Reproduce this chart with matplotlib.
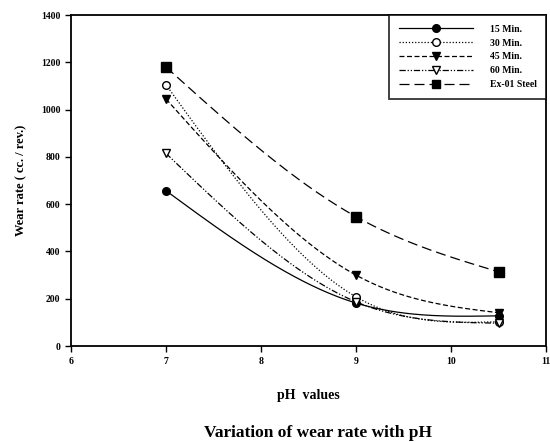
"""
Wear rate vs pH value, SigmaPlot-style line chart with smooth curves.
Saves out.png (550x442).
"""

import matplotlib
matplotlib.use("Agg")
import matplotlib.pyplot as plt
import numpy as np

PH = [7, 9, 10.5]
SERIES = ["15 Min.", "30 Min.", "45 Min.", "60 Min.", "Ex-01 Steel"]
MIN15 = [657, 182, 128]
MIN30 = [1105, 208, 103]
MIN45 = [1045, 300, 141]
MIN60 = [815, 187, 97]
EX01 = [1180, 547, 314]

STYLES = [
    dict(ls="-", marker="o", mfc="black"),
    dict(ls=(0, (1, 1.5)), marker="o", mfc="white"),
    dict(ls=(0, (4, 2)), marker="v", mfc="black"),
    dict(ls=(0, (5, 1.5, 1, 1.5, 1, 1.5)), marker="v", mfc="white"),
    dict(ls=(0, (8, 4)), marker="s", mfc="black"),
]


def natural_spline(x, y, n=120):
    # natural cubic spline through the data points, only for drawing the line
    x = np.asarray(x, float)
    y = np.asarray(y, float)
    h = np.diff(x)
    k = len(x)
    A = np.zeros((k, k))
    r = np.zeros(k)
    A[0, 0] = A[-1, -1] = 1
    for i in range(1, k - 1):
        A[i, i - 1] = h[i - 1]
        A[i, i] = 2 * (h[i - 1] + h[i])
        A[i, i + 1] = h[i]
        r[i] = 6 * ((y[i + 1] - y[i]) / h[i] - (y[i] - y[i - 1]) / h[i - 1])
    M = np.linalg.solve(A, r)
    xs, ys = [], []
    for i in range(k - 1):
        t = np.linspace(x[i], x[i + 1], n)
        hi = h[i]
        s = (M[i] * (x[i + 1] - t) ** 3 / (6 * hi) + M[i + 1] * (t - x[i]) ** 3 / (6 * hi)
             + (y[i] / hi - M[i] * hi / 6) * (x[i + 1] - t)
             + (y[i + 1] / hi - M[i + 1] * hi / 6) * (t - x[i]))
        xs.append(t)
        ys.append(s)
    return np.concatenate(xs), np.concatenate(ys)


plt.rcParams["font.family"] = ["Liberation Serif", "DejaVu Serif"]
plt.rcParams["font.weight"] = "bold"

fig = plt.figure(figsize=(5.5, 4.42), dpi=100)
ax = fig.add_axes([0.129, 0.217, 0.864, 0.749])

for name, vals, st in zip(SERIES, [MIN15, MIN30, MIN45, MIN60, EX01], STYLES):
    xs, ys = natural_spline(PH, vals)
    ax.plot(xs, ys, color="black", lw=0.9, ls=st["ls"])
    ax.plot(PH, vals, ls="none", marker=st["marker"], mfc=st["mfc"], mec="black",
            ms=6.5 if st["marker"] == "s" else 5.5, mew=1)
    ax.plot([], [], color="black", lw=0.9, ls=st["ls"], marker=st["marker"],
            mfc=st["mfc"], mec="black", ms=5.5, label=name)

ax.set_xlim(6, 11)
ax.set_ylim(0, 1400)
ax.set_xticks(range(6, 12))
ax.set_yticks(range(0, 1401, 200))
ax.tick_params(direction="out", length=4, width=1, labelsize=7)
for s in ax.spines.values():
    s.set_linewidth(1.3)

ax.set_ylabel("Wear rate ( cc. / rev.)", fontsize=9, fontweight="bold", labelpad=10)

leg = ax.legend(loc="upper right", borderaxespad=0, fontsize=7, handlelength=7.6,
                handletextpad=1.7, labelspacing=0.5, borderpad=1.0, frameon=True,
                fancybox=False)
leg.get_frame().set_edgecolor("black")
leg.get_frame().set_linewidth(1.3)

fig.text(0.561, 0.105, "pH  values", ha="center", va="center", fontsize=10, fontweight="bold")
fig.text(0.578, 0.02, "Variation of wear rate with pH", ha="center", va="center",
         fontsize=12.5, fontweight="bold")

fig.savefig("out.png", dpi=100)
